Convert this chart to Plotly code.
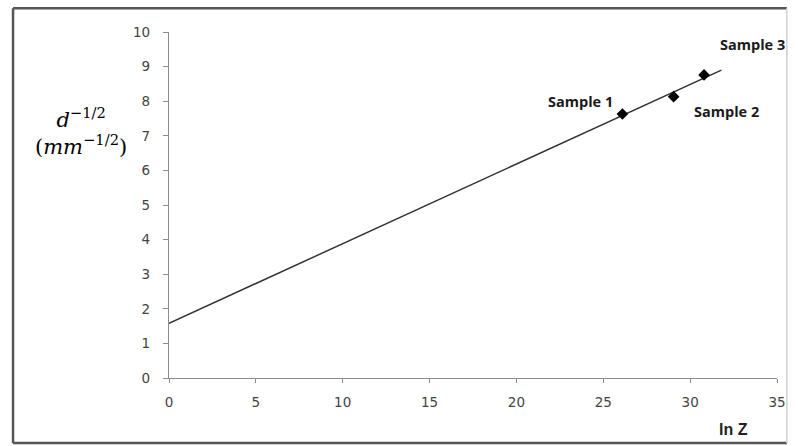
import plotly.graph_objects as go

# Data
sample_names = ["Sample 1", "Sample 2", "Sample 3"]
ln_z = [26.1, 29.05, 30.8]
d_inv_sqrt = [7.63, 8.13, 8.76]

trend_x = [0, 31.8]
trend_y = [1.58, 8.9]

x_ticks = [0, 5, 10, 15, 20, 25, 30, 35]
y_ticks = [0, 1, 2, 3, 4, 5, 6, 7, 8, 9, 10]

fig = go.Figure()
fig.add_trace(go.Scatter(x=trend_x, y=trend_y, mode="lines",
                         line=dict(color="#333333", width=1.5),
                         hoverinfo="skip", showlegend=False))
fig.add_trace(go.Scatter(x=ln_z, y=d_inv_sqrt, mode="markers",
                         marker=dict(symbol="diamond", size=9, color="black"),
                         showlegend=False))

label_shift = [(-42, 13), (53, -15), (48, 30)]
for name, x, y, (sx, sy) in zip(sample_names, ln_z, d_inv_sqrt, label_shift):
    fig.add_annotation(x=x, y=y, text=name, showarrow=False,
                       xshift=sx, yshift=sy,
                       font=dict(family="Open Sans", size=14.5, color="#1a1a1a", weight="bold"))

fig.add_annotation(xref="paper", yref="paper", x=-0.145, y=0.712,
                   xanchor="center", yanchor="middle",
                   text="<i>d</i><sup>−1/2</sup><br>(<i>mm</i><sup>−1/2</sup>)",
                   showarrow=False, align="center",
                   font=dict(family="DejaVu Serif", size=21, color="#000000"))

fig.add_annotation(xref="paper", yref="paper", x=0.928, y=-0.148,
                   xanchor="center", yanchor="middle",
                   text="<b>ln Z</b>", showarrow=False,
                   font=dict(family="Liberation Sans Narrow, Liberation Sans", size=16, color="#222222"))

# outer frame: dark left/top/bottom, faint right edge
bx0, bx1, by0, by1 = -0.2565, 1.0162, -0.188, 1.069
dark = dict(color="#555555", width=2.5)
for (x0, y0, x1, y1) in [(bx0, by0, bx0, by1), (bx0, by1, bx1, by1), (bx0, by0, bx1, by0)]:
    fig.add_shape(type="line", xref="paper", yref="paper",
                  x0=x0, y0=y0, x1=x1, y1=y1, line=dark)
fig.add_shape(type="line", xref="paper", yref="paper",
              x0=bx1, y0=by0, x1=bx1, y1=by1, line=dict(color="#d0d0d0", width=1.5))

fig.update_xaxes(range=[0, 35], tickvals=x_ticks, showgrid=False, zeroline=False,
                 showline=True, linecolor="#8c8c8c", linewidth=1.2,
                 ticks="outside", ticklen=4, tickcolor="#8c8c8c",
                 ticklabelstandoff=8,
                 tickfont=dict(family="DejaVu Sans", size=13.5, color="#444444"))
fig.update_yaxes(range=[0, 10], tickvals=y_ticks, showgrid=False, zeroline=False,
                 showline=True, linecolor="#8c8c8c", linewidth=1.2,
                 ticks="outside", ticklen=5, tickcolor="#8c8c8c",
                 ticklabelstandoff=10,
                 tickfont=dict(family="DejaVu Sans", size=13.5, color="#444444"))

fig.update_layout(width=798, height=446,
                  margin=dict(l=169, r=13, t=32, b=68),
                  plot_bgcolor="white", paper_bgcolor="white")

fig.write_html("out.html")
